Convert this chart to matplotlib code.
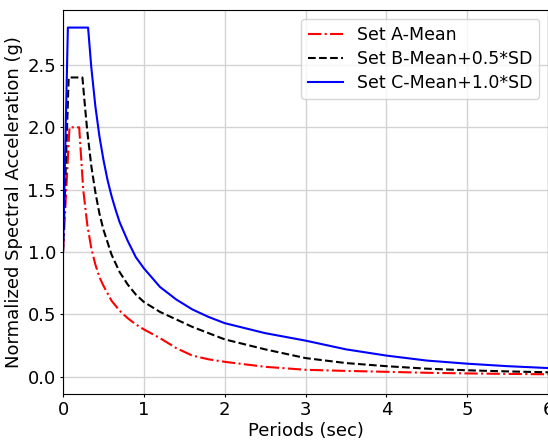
import matplotlib
matplotlib.use("Agg")
import matplotlib.pyplot as plt

# periods (sec) and normalized spectral acceleration (g)
PERIOD_A = [0, 0.08, 0.2, 0.25, 0.3, 0.35, 0.4, 0.45, 0.5, 0.6, 0.7, 0.8,
            0.9, 1.0, 1.2, 1.4, 1.6, 1.8, 2.0, 2.5, 3.0, 3.5, 4.0, 4.5,
            5.0, 5.5, 6.0]
SA_A = [1.0, 2.0, 2.0, 1.5, 1.22, 1.03, 0.9, 0.8, 0.73, 0.61, 0.53, 0.47,
        0.42, 0.38, 0.31, 0.23, 0.17, 0.14, 0.12, 0.08, 0.056, 0.047, 0.04,
        0.032, 0.027, 0.023, 0.02]

PERIOD_B = [0, 0.07, 0.24, 0.27, 0.3, 0.35, 0.4, 0.45, 0.5, 0.6, 0.7, 0.8,
            0.9, 1.0, 1.2, 1.4, 1.6, 1.8, 2.0, 2.5, 3.0, 3.5, 4.0, 4.5,
            5.0, 5.5, 6.0]
SA_B = [1.0, 2.4, 2.4, 2.18, 1.97, 1.69, 1.48, 1.31, 1.18, 0.98, 0.84, 0.74,
        0.66, 0.60, 0.52, 0.46, 0.40, 0.35, 0.30, 0.22, 0.15, 0.11, 0.085,
        0.065, 0.052, 0.043, 0.036]

PERIOD_C = [0, 0.06, 0.31, 0.35, 0.4, 0.45, 0.5, 0.55, 0.6, 0.65, 0.7, 0.8,
            0.9, 1.0, 1.2, 1.4, 1.6, 1.8, 2.0, 2.5, 3.0, 3.5, 4.0, 4.5,
            5.0, 5.5, 6.0]
SA_C = [1.0, 2.8, 2.8, 2.48, 2.17, 1.93, 1.74, 1.58, 1.45, 1.34, 1.24, 1.09,
        0.96, 0.87, 0.72, 0.62, 0.54, 0.48, 0.43, 0.35, 0.29, 0.22, 0.17,
        0.13, 0.105, 0.085, 0.07]

LABELS = ["Set A-Mean", "Set B-Mean+0.5*SD", "Set C-Mean+1.0*SD"]

fig = plt.figure(figsize=(5.48, 4.4), dpi=100)
ax = fig.add_axes([0.115, 0.104, 0.885, 0.873])

ax.plot(PERIOD_A, SA_A, "r-.", lw=1.5, label=LABELS[0])
ax.plot(PERIOD_B, SA_B, "k--", lw=1.5, label=LABELS[1])
ax.plot(PERIOD_C, SA_C, "b-", lw=1.5, label=LABELS[2])

ax.set_xlim(0, 6)
ax.set_ylim(-0.14, 2.94)
ax.set_xlabel("Periods (sec)", fontsize=13, labelpad=2)
ax.set_ylabel("Normalized Spectral Acceleration (g)", fontsize=13, labelpad=3)
ax.tick_params(labelsize=13, length=2.5, pad=2.5)
ax.grid(True, color="#d3d3d3", lw=1)
ax.legend(loc="upper right", fontsize=12.5, labelspacing=0.35)

fig.savefig("out.png", dpi=100)
